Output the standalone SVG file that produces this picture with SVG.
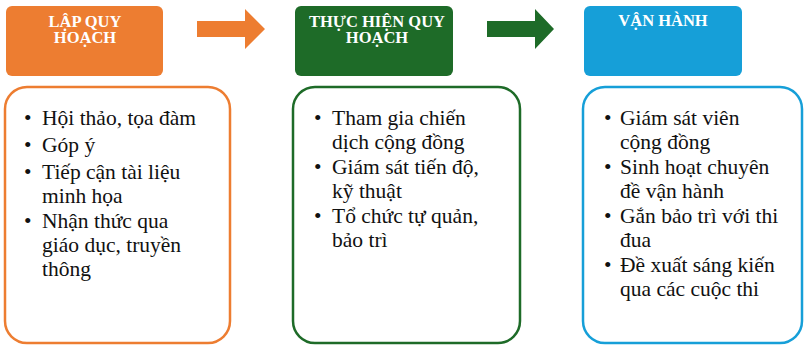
<svg xmlns="http://www.w3.org/2000/svg" width="804" height="345" viewBox="0 0 804 345">
  <style>
    .card { fill: #ffffff; stroke-width: 2.5; }
  </style>
  <rect width="804" height="345" fill="#ffffff"/>

  <!-- stage 1 -->
  <g id="lap-quy-hoach" font-family="Liberation Serif, serif" font-size="16.5" font-weight="bold" fill="#ffffff" text-anchor="middle">
    <rect x="6" y="6" width="157" height="70" rx="6" fill="#ED7D31"/>
    <text x="85" y="27">LẬP QUY</text>
    <text x="85" y="43">HOẠCH</text>
  </g>
  <g id="lap-quy-hoach-items">
    <rect class="card" x="5" y="87" width="225" height="256" rx="22" stroke="#ED7D31"/>
    <g font-family="Liberation Serif, serif" font-size="21.5" fill="#111111">
      <text x="24" y="125">•</text><text x="42" y="125">Hội thảo, tọa đàm</text>
      <text x="24" y="152">•</text><text x="42" y="152">Góp ý</text>
      <text x="24" y="179">•</text><text x="42" y="179">Tiếp cận tài liệu</text>
      <text x="42" y="203">minh họa</text>
      <text x="24" y="228">•</text><text x="42" y="228">Nhận thức qua</text>
      <text x="42" y="252">giáo dục, truyền</text>
      <text x="42" y="276">thông</text>
    </g>
  </g>

  <!-- stage 2 -->
  <g id="thuc-hien-quy-hoach" font-family="Liberation Serif, serif" font-size="16.5" font-weight="bold" fill="#ffffff" text-anchor="middle">
    <rect x="295" y="6" width="158" height="70" rx="6" fill="#1E6B28"/>
    <text x="377" y="27">THỰC HIỆN QUY</text>
    <text x="377" y="43">HOẠCH</text>
  </g>
  <g id="thuc-hien-quy-hoach-items">
    <rect class="card" x="293" y="87" width="227" height="256" rx="22" stroke="#1E6B28"/>
    <g font-family="Liberation Serif, serif" font-size="21.5" fill="#111111">
      <text x="314" y="125">•</text><text x="332" y="125">Tham gia chiến</text>
      <text x="332" y="149">dịch cộng đồng</text>
      <text x="314" y="174">•</text><text x="332" y="174">Giám sát tiến độ,</text>
      <text x="332" y="198">kỹ thuật</text>
      <text x="314" y="223">•</text><text x="332" y="223">Tổ chức tự quản,</text>
      <text x="332" y="247">bảo trì</text>
    </g>
  </g>

  <!-- stage 3 -->
  <g id="van-hanh" font-family="Liberation Serif, serif" font-size="16.5" font-weight="bold" fill="#ffffff" text-anchor="middle">
    <rect x="584" y="6" width="158" height="70" rx="6" fill="#169FD8"/>
    <text x="663" y="26">VẬN HÀNH</text>
  </g>
  <g id="van-hanh-items">
    <rect class="card" x="583" y="87" width="219" height="256" rx="22" stroke="#169FD8"/>
    <g font-family="Liberation Serif, serif" font-size="21.5" fill="#111111">
      <text x="604" y="125">•</text><text x="620" y="125">Giám sát viên</text>
      <text x="620" y="149">cộng đồng</text>
      <text x="604" y="174">•</text><text x="620" y="174">Sinh hoạt chuyên</text>
      <text x="620" y="198">đề vận hành</text>
      <text x="604" y="223">•</text><text x="620" y="223">Gắn bảo trì với thi</text>
      <text x="620" y="247">đua</text>
      <text x="604" y="272">•</text><text x="620" y="272">Đề xuất sáng kiến</text>
      <text x="620" y="296">qua các cuộc thi</text>
    </g>
  </g>

  <!-- connectors between stages -->
  <g id="connectors">
    <polygon points="197,21 245,21 245,9 265,29 245,49 245,37 197,37" fill="#ED7D31"/>
    <polygon points="487,21 535,21 535,9 554,29 535,49 535,37 487,37" fill="#1E6B28"/>
  </g>
</svg>
